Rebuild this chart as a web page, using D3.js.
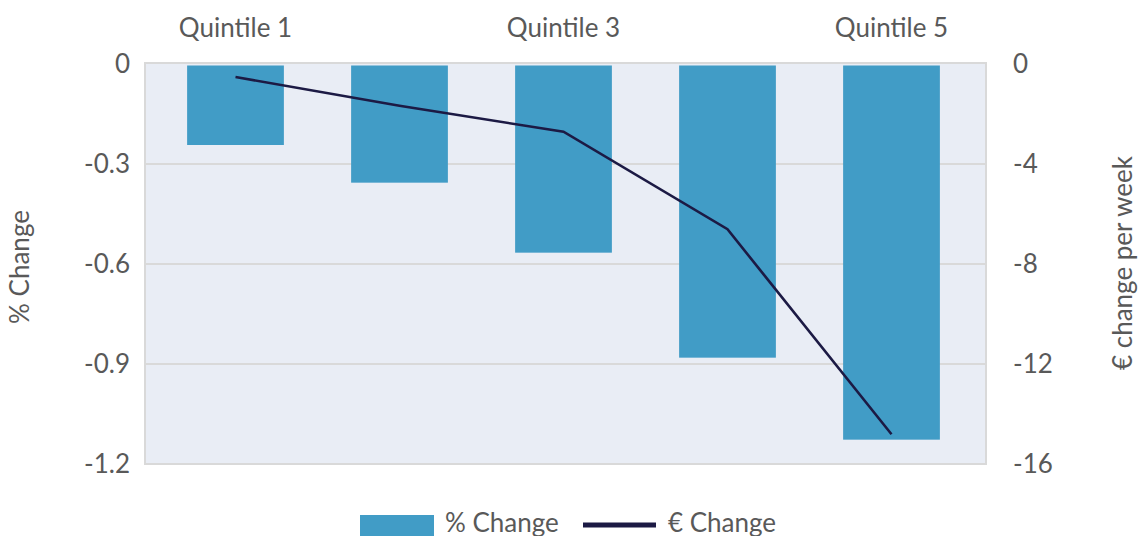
<!DOCTYPE html>
<html>
<head>
<meta charset="utf-8">
<script src="https://cdn.jsdelivr.net/npm/d3@7"></script>
<style>
  html, body { margin: 0; padding: 0; background: #ffffff; }
  svg { display: block; font-family: Lato, "Open Sans", sans-serif; }
</style>
</head>
<body>
<svg id="chart" width="1140" height="536"></svg>
<script>
// Distributional impact by income quintile
const categories = ["Quintile 1", "Quintile 2", "Quintile 3", "Quintile 4", "Quintile 5"];
const shownCategoryLabels = ["Quintile 1", "Quintile 3", "Quintile 5"];
const pctChange = [-0.243, -0.356, -0.566, -0.881, -1.127];
const euroChange = [-0.52, -1.67, -2.71, -6.61, -14.81];
const leftTicks = [0, -0.3, -0.6, -0.9, -1.2];
const rightTicks = [0, -4, -8, -12, -16];
const legendLabels = ["% Change", "€ Change"];

const svg = d3.select("#chart");
const textColor = "#595959";
const barColor = "#419CC6";
const lineColor = "#1C1A44";
const fontSize = 26;

const plot = { left: 145, right: 986, top: 64, bottom: 464 };

const x = d3.scaleBand()
  .domain(categories)
  .range([153.5, 973.5])
  .paddingInner(0.41)
  .paddingOuter(0.205);

const yLeft = d3.scaleLinear().domain([-1.2, 0]).range([plot.bottom, plot.top]);
const yRight = d3.scaleLinear().domain([-16, 0]).range([plot.bottom, plot.top]);

// plot background
svg.append("rect")
  .attr("x", plot.left).attr("y", plot.top - 1)
  .attr("width", plot.right - plot.left).attr("height", plot.bottom - plot.top + 1)
  .attr("fill", "#E9EDF5")
  .attr("stroke", "#D9D9D9").attr("stroke-width", 2);

// gridlines
svg.append("g")
  .selectAll("line")
  .data(leftTicks.filter(t => t !== 0 && t !== -1.2))
  .join("line")
  .attr("x1", plot.left).attr("x2", plot.right)
  .attr("y1", d => yLeft(d)).attr("y2", d => yLeft(d))
  .attr("stroke", "#D9D9D9").attr("stroke-width", 2);

// bars
svg.append("g")
  .selectAll("rect")
  .data(categories.map((c, i) => ({ c, v: pctChange[i] })))
  .join("rect")
  .attr("x", d => x(d.c))
  .attr("width", x.bandwidth())
  .attr("y", yLeft(0) + 1.5)
  .attr("height", d => yLeft(d.v) - yLeft(0) - 1.5)
  .attr("fill", barColor);

// euro change line
const line = d3.line()
  .x((d, i) => x(categories[i]) + x.bandwidth() / 2)
  .y(d => yRight(d));
svg.append("path")
  .datum(euroChange)
  .attr("d", line)
  .attr("fill", "none")
  .attr("stroke", lineColor)
  .attr("stroke-width", 2.6);

function styleText(sel) {
  sel.attr("font-size", fontSize).attr("fill", textColor)
    .attr("font-family", "Lato, sans-serif");
}

// left axis
const leftAxis = d3.axisLeft(yLeft)
  .tickValues(leftTicks)
  .tickFormat(d => d === 0 ? "0" : d.toFixed(1))
  .tickSize(0).tickPadding(15);
const gL = svg.append("g").attr("transform", `translate(${plot.left},0)`).call(leftAxis);
gL.select(".domain").remove();
gL.selectAll("text").call(styleText);

// right axis
const rightAxis = d3.axisRight(yRight)
  .tickValues(rightTicks)
  .tickFormat(d => String(d))
  .tickSize(0).tickPadding(27);
const gR = svg.append("g").attr("transform", `translate(${plot.right},0)`).call(rightAxis);
gR.select(".domain").remove();
gR.selectAll("text").call(styleText);

// category labels along the top
const topAxis = d3.axisTop(x)
  .tickValues(shownCategoryLabels)
  .tickSize(0).tickPadding(27);
const gT = svg.append("g").attr("transform", `translate(0,${plot.top})`).call(topAxis);
gT.select(".domain").remove();
gT.selectAll("text").call(styleText);

// axis titles
svg.append("text")
  .attr("transform", `translate(29,267) rotate(-90)`)
  .attr("text-anchor", "middle")
  .call(styleText)
  .text("% Change");
svg.append("text")
  .attr("transform", `translate(1132,263) rotate(-90)`)
  .attr("text-anchor", "middle")
  .call(styleText)
  .text("€ change per week");

// legend
const legend = svg.append("g");
legend.append("rect")
  .attr("x", 360).attr("y", 515).attr("width", 74).attr("height", 22)
  .attr("fill", barColor);
legend.append("text")
  .attr("x", 445).attr("y", 532)
  .call(styleText)
  .text(legendLabels[0]);
legend.append("line")
  .attr("x1", 583).attr("x2", 656).attr("y1", 525).attr("y2", 525)
  .attr("stroke", lineColor).attr("stroke-width", 5);
legend.append("text")
  .attr("x", 668).attr("y", 532)
  .call(styleText)
  .text(legendLabels[1]);
</script>
</body>
</html>
